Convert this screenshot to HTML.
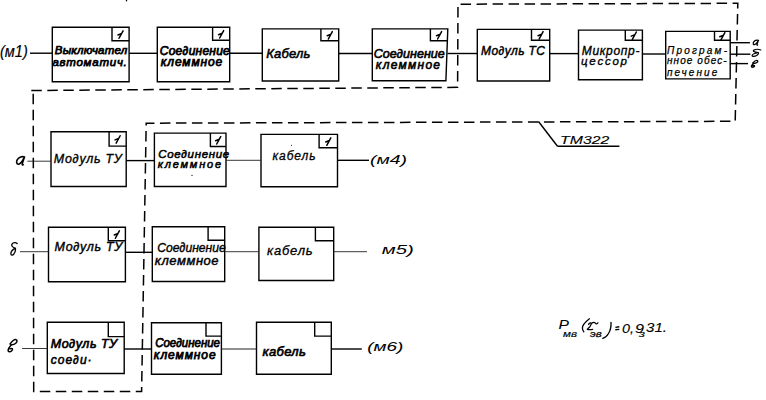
<!DOCTYPE html><html><head><meta charset="utf-8"><style>html,body{margin:0;padding:0;background:#fff;width:766px;height:400px;overflow:hidden}svg{display:block}text{font-family:"Liberation Sans",sans-serif;font-style:italic;font-weight:normal;fill:#000;stroke:#000}</style></head><body>
<svg width="766" height="400" viewBox="0 0 766 400">
<g fill="none" stroke="#000" stroke-width="1.4">
<path d="M52.3 27.3H129.1L129.1 81.8H52.3Z"/>
<path d="M112 27.3V40.8H129.1"/>
<path d="M157.3 27.3H229.7L229.7 81.8H157.3Z"/>
<path d="M212.6 27.3V40.3H229.7"/>
<path d="M262.3 28.9H338.7L338.7 81H262.3Z"/>
<path d="M320.9 28.9V40.8H338.7"/>
<path d="M372.3 28.9H447.8L445.9 80.8H372.3Z"/>
<path d="M430.4 28.9V40.7H447.37"/>
<path d="M477.3 29.4H549.7L549.7 81H477.3Z"/>
<path d="M531.5 29.4V40.3H549.7"/>
<path d="M578.5 30.1H642.4L642.4 79.8H578.5Z"/>
<path d="M625.3 30.1V40.3H642.4"/>
<path d="M665.7 31.4H730.2L730.2 78.9H665.7Z"/>
<path d="M714.5 31.4V40.3H730.2"/>
<path d="M51 131.8H126.2L126.2 186.5H51Z"/>
<path d="M109.1 131.8V146.1H126.2"/>
<path d="M154.4 133.1H226L226 186.5H154.4Z"/>
<path d="M210.4 133.1V146.5H226"/>
<path d="M261 134.4H337.5L337.5 186.8H261Z"/>
<path d="M319.1 134.4V147.8H337.5"/>
<path d="M48.5 227.3H125.4L125.4 281.8H48.5Z"/>
<path d="M108.3 227.3V240.8H125.4"/>
<path d="M152.3 226.8H224.7L224.7 281.5H152.3Z"/>
<path d="M208.1 226.8V240.3H224.7"/>
<path d="M258.9 227.3H333.7L333.7 280.5H258.9Z"/>
<path d="M315.4 227.3V240.8H333.7"/>
<path d="M47.3 322.3H124.2L124.2 373.5H47.3Z"/>
<path d="M108.3 322.3V336.6H124.2"/>
<path d="M151.5 322.8H221.4L221.4 374.3H151.5Z"/>
<path d="M206 322.8V336.1H221.4"/>
<path d="M256.5 322.3H331.3L331.3 374.3H256.5Z"/>
<path d="M314.7 322.3V336.1H331.3"/>
<path d="M30 53.2L52.3 53.2"/>
<path d="M129.1 53.3L157.3 53.3"/>
<path d="M229.7 53.3L262.3 53.3"/>
<path d="M338.7 53.5L372.3 53.5"/>
<path d="M447.4 53.5L477.3 53.5"/>
<path d="M549.7 53.6L578.5 53.6"/>
<path d="M642.4 54L665.7 54"/>
<path d="M730.2 42.7L749.9 42.7"/>
<path d="M730.2 54.2L750.4 54.2"/>
<path d="M730.2 63.6L748 63.6"/>
<path d="M27.4 161.2L51 161.2" stroke-width="0.9" stroke="#222"/>
<path d="M126.2 160.6L154.4 160.6"/>
<path d="M226 160.3L261 160.3" stroke-width="0.9" stroke="#222"/>
<path d="M337.5 160.3L369 160.3"/>
<path d="M20 251.7L48.5 251.7" stroke-width="0.9" stroke="#222"/>
<path d="M125.4 252.3L152.3 252.3"/>
<path d="M224.7 251.7L258.9 251.7" stroke-width="0.9" stroke="#222"/>
<path d="M333.7 251.7L367 251.7" stroke-width="0.9" stroke="#222"/>
<path d="M22 348.5L47.3 348.5" stroke-width="0.9" stroke="#222"/>
<path d="M124.2 349L151.5 349"/>
<path d="M221.4 349L256.5 349" stroke-width="1.1" stroke="#222"/>
<path d="M331.3 349L361.8 349"/>
<path d="M538.5 121.5L557.5 146.3"/>
<path d="M557.5 146.3L619.4 146.3"/>
<path d="M615.4 327.4l3.9-.6M615.3 329.8l4-.4" stroke-width="1.4"/>
<path d="M589.4 318.8C586 321.5 582.3 325 582.4 328C582.5 329.8 583 331 583.8 331.8" stroke-width="1.3" stroke-linecap="round"/>
<path d="M611 322.3C611.2 326 610.8 330 608.5 333.5C607 336 605 337.8 602.8 338.3" stroke-width="1.3" stroke-linecap="round"/>
<path d="M588.6 324.4C589.5 322.6 591.6 322.2 591.1 324.3C590.6 326.3 588.3 328.4 587.3 329.4C589 329.8 591 329.7 592.6 329.3M591.8 323.2C593.2 321.9 595 322.3 595.6 323.4C596.2 324.3 597.1 324 597.9 322.9" stroke-width="1.3" stroke-linecap="round" stroke-linejoin="round"/>
</g>
<polyline points="31.3,90.5 457.6,87.3 458,4.2 737.8,3.3 735.2,121.3 146.2,123.2 141.6,391.6 33.7,391.6 33.2,90.5" fill="none" stroke="#000" stroke-width="1.5" stroke-dasharray="10.5 5.5"/>
<g fill="none" stroke="#000" stroke-width="1.5" stroke-linecap="round">
<path d="M123.05 30.85L119.05 38.25M121.65 33.45L117.95 34.95"/>
<path d="M223.65 30.6L219.65 38M222.25 33.2L218.55 34.7"/>
<path d="M332.3 31.65L328.3 39.05M330.9 34.25L327.2 35.75"/>
<path d="M441.6 31.6L437.6 39M440.2 34.2L436.5 35.7"/>
<path d="M543.1 31.65L539.1 39.05M541.7 34.25L538 35.75"/>
<path d="M636.35 32L632.35 39.4M634.95 34.6L631.25 36.1"/>
<path d="M724.85 32.65L720.85 40.05M723.45 35.25L719.75 36.75"/>
<path d="M120.15 135.75L116.15 143.15M118.75 138.35L115.05 139.85"/>
<path d="M220.7 136.6L216.7 144M219.3 139.2L215.6 140.7"/>
<path d="M330.8 137.9L326.8 145.3M329.4 140.5L325.7 142"/>
<path d="M119.35 230.85L115.35 238.25M117.95 233.45L114.25 234.95"/>
</g>
<g fill="none" stroke="#000" stroke-linecap="round" stroke-linejoin="round">
<path transform="translate(16.3 156.4) scale(8.500 8.700)" d="M0.97 0.08C0.7 -0.04 0.3 0.05 0.1 0.4C-0.03 0.65 0.05 0.95 0.28 0.9C0.55 0.83 0.78 0.45 0.94 0.12C0.85 0.4 0.72 0.7 0.7 0.9C0.7 1.0 0.78 1.0 0.82 0.96" vector-effect="non-scaling-stroke" stroke-width="1.6"/>
<path transform="translate(10.8 242.5) scale(6.300 13.200)" d="M1 0.08C0.8 -0.02 0.4 -0.02 0.22 0.1C0.05 0.22 0.2 0.36 0.72 0.43C0.35 0.53 0.02 0.68 0.01 0.84C0 0.98 0.3 1.0 0.47 0.88C0.66 0.75 0.8 0.56 0.72 0.43" vector-effect="non-scaling-stroke" stroke-width="1.3"/>
<path transform="translate(7.9 339.4) scale(9.600 12.800)" d="M0.22 0.36C0.4 0.18 0.62 0.0 0.8 0.01C1.0 0.03 0.98 0.2 0.82 0.3C0.68 0.39 0.5 0.42 0.36 0.41C0.2 0.55 0.02 0.72 0.02 0.86C0.03 1.0 0.25 1.0 0.4 0.88C0.55 0.77 0.5 0.68 0.22 0.74" vector-effect="non-scaling-stroke" stroke-width="1.5"/>
<path transform="translate(753 40) scale(5.700 5.200)" d="M0.97 0.08C0.7 -0.04 0.3 0.05 0.1 0.4C-0.03 0.65 0.05 0.95 0.28 0.9C0.55 0.83 0.78 0.45 0.94 0.12C0.85 0.4 0.72 0.7 0.7 0.9C0.7 1.0 0.78 1.0 0.82 0.96" vector-effect="non-scaling-stroke" stroke-width="1.25"/>
<path transform="translate(752 49.4) scale(8.800 7.300)" d="M1 0.08C0.8 -0.02 0.4 -0.02 0.22 0.1C0.05 0.22 0.2 0.36 0.72 0.43C0.35 0.53 0.02 0.68 0.01 0.84C0 0.98 0.3 1.0 0.47 0.88C0.66 0.75 0.8 0.56 0.72 0.43" vector-effect="non-scaling-stroke" stroke-width="1.2"/>
<path transform="translate(751.2 60.4) scale(7.000 7.100)" d="M0.22 0.36C0.4 0.18 0.62 0.0 0.8 0.01C1.0 0.03 0.98 0.2 0.82 0.3C0.68 0.39 0.5 0.42 0.36 0.41C0.2 0.55 0.02 0.72 0.02 0.86C0.03 1.0 0.25 1.0 0.4 0.88C0.55 0.77 0.5 0.68 0.22 0.74" vector-effect="non-scaling-stroke" stroke-width="1.3"/>
</g>
<text id="t0" x="0" y="56.6" font-size="16.5" textLength="27.8" lengthAdjust="spacingAndGlyphs" stroke-width="0.2">(м1)</text>
<text id="t1" x="54.8" y="54" font-size="11.5" textLength="72.4" lengthAdjust="spacing" stroke-width="0.75">Выключател</text>
<text id="t2" x="52.4" y="66" font-size="11.5" textLength="74.4" lengthAdjust="spacing" stroke-width="0.75">автоматич.</text>
<text id="t3" x="159.8" y="55" font-size="12" textLength="70" lengthAdjust="spacing" stroke-width="0.75">Сое∂инение</text>
<text id="t4" x="160.8" y="65.6" font-size="12" textLength="61.4" lengthAdjust="spacing" stroke-width="0.75">клеммное</text>
<text id="t5" x="266.2" y="58" font-size="13" textLength="44.2" lengthAdjust="spacing" stroke-width="0.55">Кабель</text>
<text id="t6" x="373.8" y="57.8" font-size="12.5" textLength="71" lengthAdjust="spacing" stroke-width="0.6">Сое∂инение</text>
<text id="t7" x="375.8" y="68.7" font-size="12" textLength="64.2" lengthAdjust="spacing" stroke-width="0.6">клеммное</text>
<text id="t8" x="481" y="55" font-size="12" textLength="64" lengthAdjust="spacing" stroke-width="0.45">Мо∂уль ТС</text>
<text id="t9" x="581.8" y="54.5" font-size="12" textLength="57.6" lengthAdjust="spacing" stroke-width="0.35">Микропр-</text>
<text id="t10" x="581" y="64.8" font-size="11.5" textLength="46" lengthAdjust="spacing" stroke-width="0.35">цессор</text>
<text id="t11" x="667" y="53.6" font-size="10" textLength="60" lengthAdjust="spacing" stroke-width="0.25">Програм-</text>
<text id="t12" x="667" y="64" font-size="10" textLength="59.6" lengthAdjust="spacing" stroke-width="0.25">нное обес-</text>
<text id="t13" x="667" y="75.5" font-size="10" textLength="50.2" lengthAdjust="spacing" stroke-width="0.25">печение</text>
<text id="t14" x="560" y="143.8" font-size="11.5" textLength="49.4" lengthAdjust="spacingAndGlyphs" stroke-width="0.1">ТМ322</text>
<text id="t15" x="53.8" y="162.8" font-size="12.5" textLength="68" lengthAdjust="spacing" stroke-width="0.35">Мо∂уль ТУ</text>
<text id="t16" x="158.2" y="158.3" font-size="11.5" textLength="71" lengthAdjust="spacing" stroke-width="0.55">Сое∂инение</text>
<text id="t17" x="157.8" y="168.2" font-size="11" textLength="63.2" lengthAdjust="spacing" stroke-width="0.55">клеммное</text>
<text id="t18" x="272.4" y="159.5" font-size="12" textLength="43.2" lengthAdjust="spacing" stroke-width="0.3">кабель</text>
<text id="t19" x="370" y="163.5" font-size="13" textLength="37" lengthAdjust="spacingAndGlyphs" stroke-width="0">(м4)</text>
<text id="t20" x="54.6" y="251.4" font-size="12.5" textLength="67.6" lengthAdjust="spacing" stroke-width="0.4">Мо∂уль ТУ</text>
<text id="t21" x="157.2" y="251.8" font-size="13.5" textLength="68.6" lengthAdjust="spacingAndGlyphs" stroke-width="0.4">Сое∂инение</text>
<text id="t22" x="154.8" y="264.6" font-size="13" textLength="63.8" lengthAdjust="spacing" stroke-width="0.45">клеммное</text>
<text id="t23" x="267" y="255" font-size="13" textLength="45.6" lengthAdjust="spacing" stroke-width="0.3">кабель</text>
<text id="t24" x="381.8" y="254.2" font-size="13" textLength="32" lengthAdjust="spacingAndGlyphs" stroke-width="0">м5)</text>
<text id="t25" x="50.8" y="347.8" font-size="12.5" textLength="66.2" lengthAdjust="spacing" stroke-width="0.65">Мо∂уль ТУ</text>
<text id="t26" x="50.8" y="364" font-size="12" textLength="40.8" lengthAdjust="spacing" stroke-width="0.55">сое∂и·</text>
<text id="t27" x="155.2" y="347" font-size="12.5" textLength="64.8" lengthAdjust="spacingAndGlyphs" stroke-width="0.75">Сое∂инение</text>
<text id="t28" x="153.8" y="358.7" font-size="12" textLength="61.8" lengthAdjust="spacing" stroke-width="0.75">клеммное</text>
<text id="t29" x="262.6" y="355.5" font-size="13" textLength="43.2" lengthAdjust="spacing" stroke-width="0.65">кабель</text>
<text id="t30" x="367.2" y="351.2" font-size="13" textLength="36" lengthAdjust="spacingAndGlyphs" stroke-width="0.05">(м6)</text>
<text id="t31" x="558.6" y="328.8" font-size="13" textLength="10.4" lengthAdjust="spacingAndGlyphs" stroke-width="0.1">Р</text>
<text id="t32" x="563" y="336.9" font-size="9" textLength="14" lengthAdjust="spacingAndGlyphs" stroke-width="0.15">мв</text>
<text id="t33" x="590" y="337.4" font-size="9" textLength="11.6" lengthAdjust="spacingAndGlyphs" stroke-width="0.25">эв</text>
<text id="t34" x="622" y="332.5" font-size="12" textLength="12" lengthAdjust="spacingAndGlyphs" stroke-width="0.1">0,</text>
<text id="t35" x="635" y="332.5" font-size="12" textLength="9" lengthAdjust="spacingAndGlyphs" stroke-width="0.1">9</text>
<text id="t36" x="639" y="337" font-size="9" textLength="6" lengthAdjust="spacingAndGlyphs" stroke-width="0.15">з</text>
<text id="t37" x="646" y="331.7" font-size="12" textLength="21" lengthAdjust="spacingAndGlyphs" stroke-width="0.1">31.</text>
<g fill="#000"><ellipse cx="126.5" cy="0.6" rx="0.7" ry="1"/><circle cx="291.5" cy="145.3" r="0.55"/><circle cx="192" cy="175.4" r="0.55"/></g>
</svg></body></html>
